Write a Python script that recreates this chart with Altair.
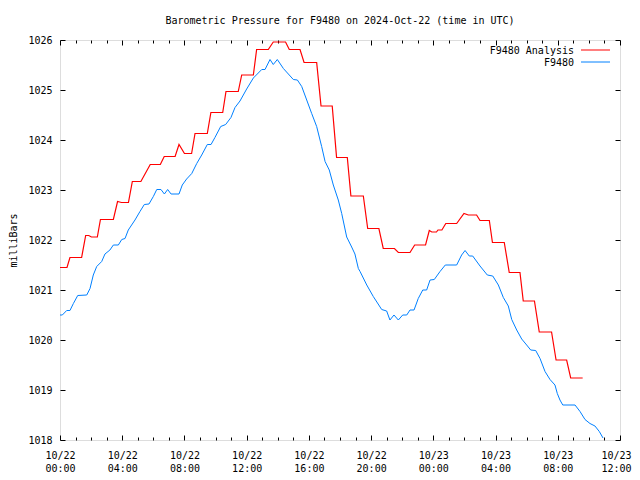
import altair as alt
import pandas as pd

# Hours since 2024-10-22 00:00 UTC, pressure in millibars
analysis_hours = [0, 0.45, 0.64, 1.39, 1.65, 1.85, 2.02, 2.4, 2.6, 3.43, 3.7, 3.95, 4.4,
                  4.65, 5.2, 5.8, 6.45, 6.7, 7.4, 7.65, 8.0, 8.46, 8.68, 9.47, 9.7, 10.46,
                  10.67, 11.46, 11.68, 12.43, 12.64, 13.39, 13.71, 14.5, 14.74, 15.43,
                  15.69, 16.5, 16.78, 17.5, 17.78, 18.47, 18.7, 19.5, 19.78, 20.5, 20.78,
                  21.5, 21.75, 22.5, 22.8, 23.5, 23.74, 23.9, 24.2, 24.3, 24.55, 24.8,
                  25.5, 25.97, 26.25, 26.78, 27.0, 27.6, 27.8, 28.56, 28.88, 29.57, 29.78,
                  30.5, 30.81, 31.6, 31.89, 32.57, 32.83, 33.6]
analysis_mb = [1021.45, 1021.45, 1021.65, 1021.65, 1022.09, 1022.09, 1022.06, 1022.06,
               1022.41, 1022.41, 1022.77, 1022.75, 1022.75, 1023.17, 1023.17, 1023.51,
               1023.51, 1023.67, 1023.67, 1023.91, 1023.73, 1023.73, 1024.13, 1024.13,
               1024.55, 1024.55, 1024.97, 1024.97, 1025.30, 1025.30, 1025.81, 1025.81,
               1025.96, 1025.96, 1025.81, 1025.81, 1025.55, 1025.55, 1024.68, 1024.68,
               1023.65, 1023.65, 1022.88, 1022.88, 1022.23, 1022.23, 1021.83, 1021.83,
               1021.75, 1021.75, 1021.90, 1021.90, 1022.19, 1022.16, 1022.16, 1022.20,
               1022.20, 1022.33, 1022.33, 1022.53, 1022.50, 1022.50, 1022.39, 1022.39,
               1021.95, 1021.95, 1021.35, 1021.35, 1020.78, 1020.78, 1020.16, 1020.16,
               1019.60, 1019.60, 1019.24, 1019.24]

station_hours = [0, 0.15, 0.43, 0.64, 0.86, 1.14, 1.72, 1.93, 2.14, 2.36, 2.68, 2.89, 3.21,
                 3.43, 3.75, 3.97, 4.18, 4.39, 4.82, 5.14, 5.42, 5.72, 6.00, 6.22, 6.49,
                 6.71, 6.92, 7.14, 7.65, 7.86, 8.14, 8.47, 8.79, 9.11, 9.47, 9.71, 9.96,
                 10.33, 10.65, 10.99, 11.25, 11.57, 12.00, 12.43, 12.97, 13.18, 13.50,
                 13.71, 13.97, 14.36, 15.00, 15.26, 15.54, 15.86, 16.18, 16.50, 16.82,
                 17.04, 17.31, 17.57, 17.89, 18.11, 18.43, 18.75, 18.96, 19.18, 19.29,
                 19.72, 20.14, 20.68, 21.00, 21.21, 21.47, 21.75, 22.03, 22.29, 22.50,
                 22.76, 23.03, 23.32, 23.57, 23.79, 24.06, 24.43, 24.77, 25.50, 25.82,
                 26.04, 26.31, 26.53, 27.00, 27.47, 27.82, 28.18, 28.50, 28.82, 29.04,
                 29.36, 29.68, 30.00, 30.26, 30.58, 30.86, 31.18, 31.50, 31.82, 31.97,
                 32.14, 32.32, 33.11, 33.43, 33.75, 34.07, 34.39, 34.67, 34.91]
station_mb = [1020.50, 1020.50, 1020.59, 1020.59, 1020.73, 1020.89, 1020.90, 1021.03,
              1021.30, 1021.47, 1021.57, 1021.72, 1021.80, 1021.90, 1021.90, 1022.01,
              1022.03, 1022.20, 1022.40, 1022.57, 1022.71, 1022.72, 1022.87, 1023.01,
              1023.01, 1022.92, 1023.01, 1022.92, 1022.92, 1023.10, 1023.22, 1023.33,
              1023.53, 1023.70, 1023.91, 1023.91, 1024.05, 1024.27, 1024.31, 1024.45,
              1024.65, 1024.78, 1025.02, 1025.24, 1025.41, 1025.41, 1025.61, 1025.51,
              1025.61, 1025.43, 1025.21, 1025.20, 1025.07, 1024.80, 1024.53, 1024.27,
              1023.87, 1023.57, 1023.40, 1023.10, 1022.80, 1022.53, 1022.06, 1021.86,
              1021.72, 1021.43, 1021.37, 1021.10, 1020.87, 1020.61, 1020.58, 1020.40,
              1020.50, 1020.40, 1020.50, 1020.50, 1020.60, 1020.60, 1020.83, 1021.00,
              1021.00, 1021.20, 1021.21, 1021.37, 1021.50, 1021.50, 1021.70, 1021.79,
              1021.68, 1021.68, 1021.48, 1021.30, 1021.28, 1021.10, 1020.85, 1020.68,
              1020.41, 1020.20, 1020.02, 1019.90, 1019.80, 1019.79, 1019.63, 1019.37,
              1019.21, 1019.10, 1018.93, 1018.80, 1018.70, 1018.70, 1018.57, 1018.41,
              1018.33, 1018.28, 1018.17, 1018.04]

series_names = ["F9480 Analysis", "F9480"]
series_colors = ["#ff0000", "#0080ff"]

x_major = list(range(0, 37, 4))
x_minor = list(range(0, 37, 1))
y_major = list(range(1018, 1027, 1))

FONT = "DejaVu Sans Mono"

red_df = pd.DataFrame({"h": analysis_hours, "p": analysis_mb})
blue_df = pd.DataFrame({"h": station_hours, "p": station_mb})

xs = alt.Scale(domain=[0, 36], nice=False, zero=False)
ys = alt.Scale(domain=[1018, 1026], nice=False, zero=False)

tick_cond = {"condition": {"test": "datum.value % 4 === 0", "value": 5}, "value": 3}

# Labels axes (no ticks)
x_lab = alt.Axis(values=x_major, orient="bottom", ticks=False, tickSize=0, domain=False,
                 grid=False, labelFont=FONT, labelFontSize=10, labelColor="black",
                 labelPadding=10, labelLineHeight=13, labelFlush=False, labelOverlap=False,
                 labelAlign={"condition": {"test": "datum.value >= 36", "value": "right"},
                             "value": "center"},
                 labelOffset={"condition": {"test": "datum.value >= 36", "value": 11},
                              "value": 0},
                 labelExpr="['10/' + (22 + floor(datum.value / 24)), format(datum.value % 24, '02d') + ':00']",
                 title=None)
y_lab = alt.Axis(values=y_major, orient="left", ticks=False, tickSize=0, domain=False,
                 grid=False, format="d", labelFont=FONT, labelFontSize=10,
                 labelColor="black", labelPadding=8, labelFlush=False, labelOverlap=False,
                 title="milliBars", titleFont=FONT, titleFontSize=10,
                 titleFontWeight="normal", titleColor="black", titlePadding=9)

# Inward tick axes
x_tick_bottom = alt.Axis(values=x_minor, orient="top", offset=-400, labels=False,
                         domain=False, grid=False, tickSize=tick_cond, tickColor="black",
                         title=None)
x_tick_top = alt.Axis(values=x_minor, orient="bottom", offset=-400, labels=False,
                      domain=False, grid=False, tickSize=tick_cond, tickColor="black",
                      title=None)
y_tick_left = alt.Axis(values=y_major, orient="right", offset=-560, labels=False,
                       domain=False, grid=False, tickSize=5, tickColor="black", title=None)
y_tick_right = alt.Axis(values=y_major, orient="left", offset=-560, labels=False,
                        domain=False, grid=False, tickSize=5, tickColor="black", title=None)

red = alt.Chart(red_df).mark_line(color=series_colors[0], strokeWidth=1.2).encode(
    x=alt.X("h:Q", scale=xs, axis=x_lab),
    y=alt.Y("p:Q", scale=ys, axis=y_lab),
)
blue = alt.Chart(blue_df).mark_line(color=series_colors[1], strokeWidth=1).encode(
    x=alt.X("h:Q", scale=xs, axis=x_tick_bottom),
    y=alt.Y("p:Q", scale=ys, axis=y_tick_left),
)
ghost = alt.Chart(blue_df).mark_line(opacity=0).encode(
    x=alt.X("h:Q", scale=xs, axis=x_tick_top),
    y=alt.Y("p:Q", scale=ys, axis=y_tick_right),
)

one = pd.DataFrame({"a": [0]})
leg_layers = []
for i, (name, col) in enumerate(zip(series_names, series_colors)):
    yy = 10 + 12 * i
    leg_layers.append(
        alt.Chart(one).mark_text(text=name, align="right", baseline="middle", font=FONT,
                                 fontSize=10, color="black")
        .encode(x=alt.value(514), y=alt.value(yy + 0.5))
    )
    leg_layers.append(
        alt.Chart(one).mark_rule(color=col, strokeWidth=1)
        .encode(x=alt.value(521), x2=alt.value(550), y=alt.value(yy))
    )

chart = alt.layer(red, blue, ghost, *leg_layers).resolve_axis(
    x="independent", y="independent"
).properties(
    width=560, height=400,
    title=alt.TitleParams("Barometric Pressure for F9480 on 2024-Oct-22 (time in UTC)",
                          font=FONT, fontSize=10, fontWeight="normal", anchor="middle",
                          offset=9, color="black"),
    autosize=alt.AutoSizeParams(type="none"),
    padding={"left": 52, "top": 32, "right": 12, "bottom": 32},
).configure_view(stroke="black", strokeWidth=1).configure(background="white")

chart.save("out.html", embed_options={"renderer": "svg", "actions": False})
